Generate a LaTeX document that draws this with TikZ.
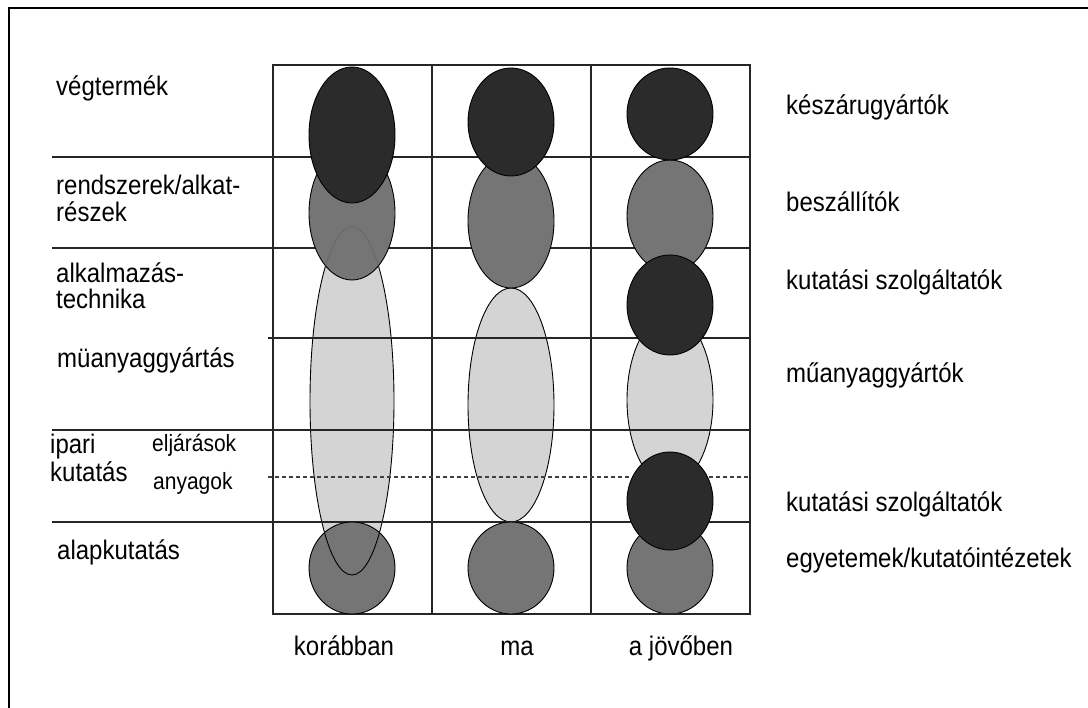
\documentclass[tikz,border=0pt]{standalone}
\usepackage{fontspec}
\setmainfont{Liberation Sans}
\usepackage{graphicx}
\definecolor{dk}{gray}{0.17}
\definecolor{md}{gray}{0.46}
\definecolor{lt}{gray}{0.83}
\newcommand\vs[1]{\scalebox{1}[1.12]{#1}}
\begin{document}
\begin{tikzpicture}[x=1pt,y=-1pt,
  frame/.style={line width=1.8pt, black},
  gridline/.style={line width=1.3pt, black!85},
  dashline/.style={line width=1.3pt, black!75, dash pattern=on 4pt off 3pt},
  blob/.style={draw=black, line width=0.9pt},
  lbl/.style={anchor=base west, inner sep=0pt, font=\fontsize{24}{28}\selectfont},
  sml/.style={anchor=base west, inner sep=0pt, font=\fontsize{21}{25}\selectfont},
  bot/.style={anchor=base, inner sep=0pt, font=\fontsize{24}{28}\selectfont}]
\useasboundingbox (0,0) rectangle (1088,708);
% outer frame (left and top only)
\draw[frame] (9,708) -- (9,8) -- (1088,8);

% light ellipses (under the grid lines)
\filldraw[blob, fill=lt] (352,401) ellipse [x radius=42, y radius=174];
\filldraw[blob, fill=lt] (511,405) ellipse [x radius=43, y radius=117];
\filldraw[blob, fill=md] (670,568) ellipse [x radius=43, y radius=46];
\filldraw[blob, fill=lt] (670,400) ellipse [x radius=43, y radius=85];

% grid
\draw[gridline] (273,65) rectangle (750,614);
\draw[gridline] (432,65) -- (432,614);
\draw[gridline] (591,65) -- (591,614);
\draw[gridline] (52,157) -- (750,157);
\draw[gridline] (52,248) -- (750,248);
\draw[gridline] (268,338) -- (750,338);
\draw[gridline] (52,430) -- (750,430);
\draw[dashline] (268,477) -- (750,477);
\draw[gridline] (52,522) -- (750,522);

% column 1 (korábban)
\filldraw[blob, fill=md] (352,568) ellipse [x radius=43, y radius=46];
\begin{scope}
  \clip (352,568) ellipse [x radius=43, y radius=46];
  \draw[black, line width=0.9pt] (352,401) ellipse [x radius=42, y radius=174];
\end{scope}
\filldraw[blob, fill=md] (352,213) ellipse [x radius=43, y radius=67];
\begin{scope}
  \clip (352,213) ellipse [x radius=43, y radius=67];
  \draw[black!60, line width=0.7pt] (352,401) ellipse [x radius=42, y radius=174];
\end{scope}
\filldraw[blob, fill=dk] (352,135) ellipse [x radius=43, y radius=68];

% column 2 (ma)
\filldraw[blob, fill=md] (511,568) ellipse [x radius=43, y radius=46];
\filldraw[blob, fill=md] (511,221) ellipse [x radius=43, y radius=67];
\filldraw[blob, fill=dk] (511,122) ellipse [x radius=43, y radius=54];

% column 3 (a jövőben)
\filldraw[blob, fill=md] (670,216) ellipse [x radius=43, y radius=56];
\filldraw[blob, fill=dk] (670,114) ellipse [x radius=43, y radius=46];
\filldraw[blob, fill=dk] (670,305) ellipse [x radius=43, y radius=50];
\filldraw[blob, fill=dk] (670,501) ellipse [x radius=43, y radius=49];

% left labels
\node[lbl] (vegt) at (56,96) {\vs{végtermék}};
\node[lbl] (rend1) at (56,195) {\vs{rendszerek/alkat-}};
\node[lbl] (rend2) at (56,222) {\vs{részek}};
\node[lbl] (alk1) at (56,283) {\vs{alkalmazás-}};
\node[lbl] (alk2) at (56,309) {\vs{technika}};
\node[lbl] (mua) at (57,368) {\vs{müanyaggyártás}};
\node[lbl] (ipari1) at (50,454) {\vs{ipari}};
\node[lbl] (ipari2) at (50,482) {\vs{kutatás}};
\node[sml] (eljar) at (152,452) {\vs{eljárások}};
\node[sml] (anyag) at (153,490) {\vs{anyagok}};
\node[lbl] (alap) at (57,560) {\vs{alapkutatás}};

% right labels
\node[lbl] (kesz) at (786,115) {\vs{készárugyártók}};
\node[lbl] (besz) at (786,212) {\vs{beszállítók}};
\node[lbl] (kut1) at (786,290) {\vs{kutatási szolgáltatók}};
\node[lbl] (mugy) at (786,383) {\vs{műanyaggyártók}};
\node[lbl] (kut2) at (786,512) {\vs{kutatási szolgáltatók}};
\node[lbl] (egy) at (786,568) {\vs{egyetemek/kutatóintézetek}};

% bottom labels
\node[bot] (kor) at (344,655) {\vs{korábban}};
\node[bot] (ma) at (517,655) {\vs{ma}};
\node[bot] (jov) at (681,655) {\vs{a jövőben}};
\end{tikzpicture}
\end{document}
